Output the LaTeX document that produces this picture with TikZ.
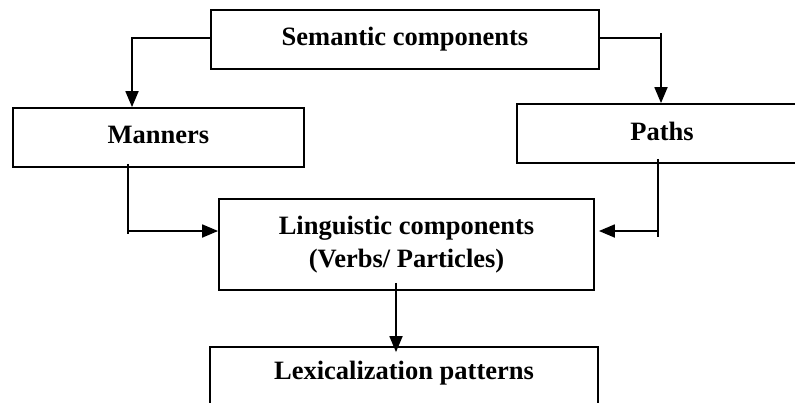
\documentclass[tikz,border=0pt]{standalone}
\usepackage{fontspec}
\setmainfont{Liberation Serif}
\usetikzlibrary{arrows.meta}
\begin{document}
\begin{tikzpicture}[x=1pt,y=-1pt,
  box/.style={draw,line width=1.8pt,rectangle,inner sep=0pt,align=center,
    font=\bfseries\fontsize{26.5}{33}\selectfont},
  txt/.style={inner sep=0pt,align=center,font=\bfseries\fontsize{26.5}{33}\selectfont},
  link/.style={line width=1.8pt},
  arr/.style={line width=1.8pt,-{Triangle[length=16pt,width=13pt]}}]
\useasboundingbox (0,0) rectangle (795,402);
\clip (0,0) rectangle (795,402);

% boxes
\node[box,minimum width=388pt,minimum height=59pt] (sem) at (405,39.5) {Semantic components};
\node[box,minimum width=291pt,minimum height=59pt] (man) at (158.5,137.5) {};
\node[txt] (manlabel) at (158.5,135) {Manners};
\node[box,minimum width=300pt,minimum height=59pt] (path) at (667,133.5) {};
\node[txt] (pathlabel) at (662,131) {Paths};
\node[box,minimum width=375pt,minimum height=91pt] (ling) at (406.5,244.5) {};
\node[txt] (linglabel) at (406.5,245)
  {Linguistic components\\(Verbs/ Particles)};
\node[box,minimum width=388pt,minimum height=73pt] (lex) at (404,383.5) {};
\node[txt] (lexlabel) at (404,373) {Lexicalization patterns};

% columns and rows of the connectors
\coordinate (mtop) at (132,0);
\coordinate (ptop) at (661,0);
\coordinate (mdown) at (128,0);
\coordinate (pdown) at (658,0);
\coordinate (ldown) at (396,0);
\coordinate (lrow) at (0,231);
\coordinate (srow) at (0,38);

% semantic components to manners and paths
\draw[arr] (sem.west |- srow) -| (mtop |- man.north);
\draw[link] (sem.east |- srow) -- (ptop |- srow);
\draw[arr] ([yshift=5pt]ptop |- srow) -- (ptop |- path.north);

% manners and paths to linguistic components
\draw[link] ([yshift=4pt]mdown |- man.south) -- ([yshift=-3pt]mdown |- lrow);
\draw[arr] (mdown |- lrow) -- (ling.west |- lrow);
\draw[link] ([yshift=5pt]pdown |- path.south) -- ([yshift=-6pt]pdown |- lrow);
\draw[arr] (pdown |- lrow) -- ([xshift=4pt]ling.east |- lrow);

% linguistic components to lexicalization patterns
\draw[arr,shorten >=-6pt] ([yshift=8pt]ldown |- ling.south) -- (ldown |- lex.north);
\end{tikzpicture}
\end{document}
